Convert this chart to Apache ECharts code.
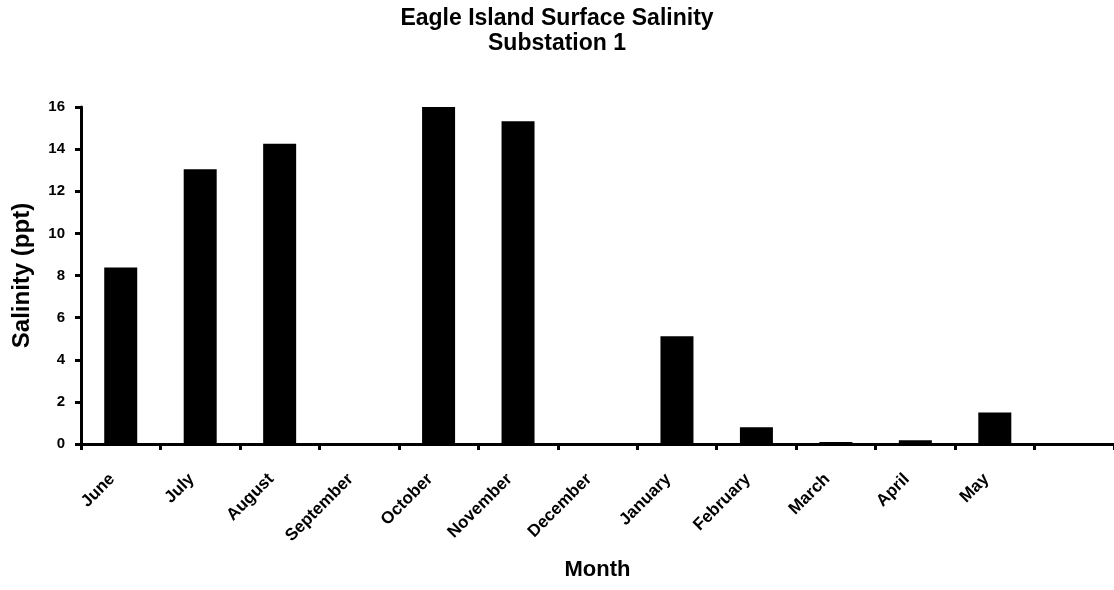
<!DOCTYPE html>
<html>
<head>
<meta charset="utf-8">
<script src="https://cdn.jsdelivr.net/npm/echarts@6/dist/echarts.min.js"></script>
<style>html,body{margin:0;padding:0;background:#fff}#c{width:1114px;height:590px}</style>
</head>
<body>
<div id="c"></div>
<script>
const months = ['June','July','August','September','October','November','December','January','February','March','April','May',''];
const salinity = [8.38, 13.05, 14.25, 0.05, 16.1, 15.32, 0.03, 5.12, 0.8, 0.1, 0.18, 1.5, null];
const titleText = 'Eagle Island Surface Salinity\nSubstation 1';
const yName = 'Salinity (ppt)';
const xName = 'Month';

const font = '"Liberation Sans", Arial, sans-serif';
const chart = echarts.init(document.getElementById('c'));
chart.setOption({
  animation: false,
  backgroundColor: '#fff',
  title: {
    text: titleText, left: 'center', top: 1,
    textStyle: {fontFamily: font, fontWeight: 'bold', fontSize: 23, color: '#000', lineHeight: 25}
  },
  grid: {left: 81, top: 107, bottom: 146, right: -10, containLabel: false},
  xAxis: {
    type: 'category', data: months,
    name: xName, nameLocation: 'middle', nameGap: 115,
    nameTextStyle: {fontFamily: font, fontWeight: 'bold', fontSize: 22, color: '#000'},
    axisLine: {lineStyle: {color: '#000', width: 3}},
    axisTick: {show: true, length: 6, lineStyle: {color: '#000', width: 3}, alignWithLabel: false},
    axisLabel: {rotate: 45, margin: 24, padding: [0, 12, 0, 0], fontFamily: font, fontWeight: 'bold', fontSize: 17, color: '#000', interval: 0}
  },
  yAxis: {
    type: 'value', min: 0, max: 16, interval: 2,
    name: yName, nameLocation: 'middle', nameGap: 47, nameRotate: 90,
    nameTextStyle: {fontFamily: font, fontWeight: 'bold', fontSize: 24, color: '#000'},
    axisLine: {show: true, lineStyle: {color: '#000', width: 3}},
    axisTick: {show: true, length: 6, lineStyle: {color: '#000', width: 3}},
    axisLabel: {margin: 16, fontFamily: font, fontWeight: 'bold', fontSize: 15, color: '#000'},
    splitLine: {show: false}
  },
  series: [{
    type: 'bar', data: salinity, barWidth: 33,
    itemStyle: {color: '#000'}
  }]
});
</script>
</body>
</html>
